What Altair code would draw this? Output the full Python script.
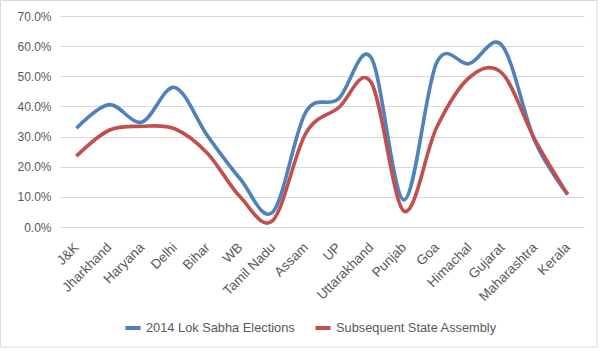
import altair as alt
import pandas as pd

states = ["J&K", "Jharkhand", "Haryana", "Delhi", "Bihar", "WB", "Tamil Nadu", "Assam",
          "UP", "Uttarakhand", "Punjab", "Goa", "Himachal", "Gujarat", "Maharashtra", "Kerala"]
lok_sabha = [0.328, 0.406, 0.348, 0.463, 0.303, 0.160, 0.050, 0.380,
             0.425, 0.562, 0.090, 0.545, 0.542, 0.602, 0.285, 0.108]
assembly = [0.235, 0.321, 0.334, 0.326, 0.245, 0.100, 0.022, 0.310,
            0.395, 0.480, 0.053, 0.330, 0.496, 0.510, 0.290, 0.108]
series_names = ["2014 Lok Sabha Elections", "Subsequent State Assembly"]
y_ticks = [0, 0.1, 0.2, 0.3, 0.4, 0.5, 0.6, 0.7]

rows = []
for i, s in enumerate(states):
    rows.append({"state": s, "series": series_names[0], "value": lok_sabha[i], "order": i})
    rows.append({"state": s, "series": series_names[1], "value": assembly[i], "order": i})
df = pd.DataFrame(rows)

W, H = 524, 211
font = "Liberation Sans"
txt = "#595959"

lines = alt.Chart(df).mark_line(interpolate="cardinal", tension=0, strokeWidth=3.6).encode(
    x=alt.X("state:N", sort=states, scale=alt.Scale(type="point", padding=0.5),
            axis=alt.Axis(title=None, labelAngle=-45, ticks=False, domain=False, grid=False,
                          labelFont=font, labelFontSize=13.5, labelColor=txt, labelPadding=13,
                          labelOffset=-5)),
    y=alt.Y("value:Q", scale=alt.Scale(domain=[0, 0.7], nice=False),
            axis=alt.Axis(title=None, values=y_ticks, format=".1%", ticks=False, domain=False,
                          gridColor="#d9d9d9", gridWidth=1, labelFont=font, labelFontSize=12,
                          labelColor=txt, labelPadding=9)),
    color=alt.Color("series:N", sort=series_names,
                    scale=alt.Scale(domain=series_names, range=["#4F81BD", "#C0504D"]),
                    legend=alt.Legend(title=None, orient="none", direction="horizontal",
                                      legendX=63, legendY=302, symbolType="stroke",
                                      symbolStrokeWidth=4, symbolSize=230,
                                      labelFont=font, labelFontSize=12.8, labelColor=txt,
                                      labelLimit=400, columnPadding=12, labelOffset=3)),
    order="order:Q",
)

border = alt.Chart(pd.DataFrame({"b": [0]})).mark_rect(
    fill=None, stroke="#d9d9d9", strokeWidth=1, clip=False
).encode(
    x=alt.value(-59.5), x2=alt.value(537), y=alt.value(-15.5), y2=alt.value(331)
)

chart = alt.layer(border, lines).properties(
    width=W, height=H,
    autosize=alt.AutoSizeParams(type="none"),
    padding={"left": 60, "top": 16, "right": 16, "bottom": 124},
    background="white",
).configure_view(stroke=None)

chart.save("out.html", embed_options={"renderer": "svg", "actions": False})
